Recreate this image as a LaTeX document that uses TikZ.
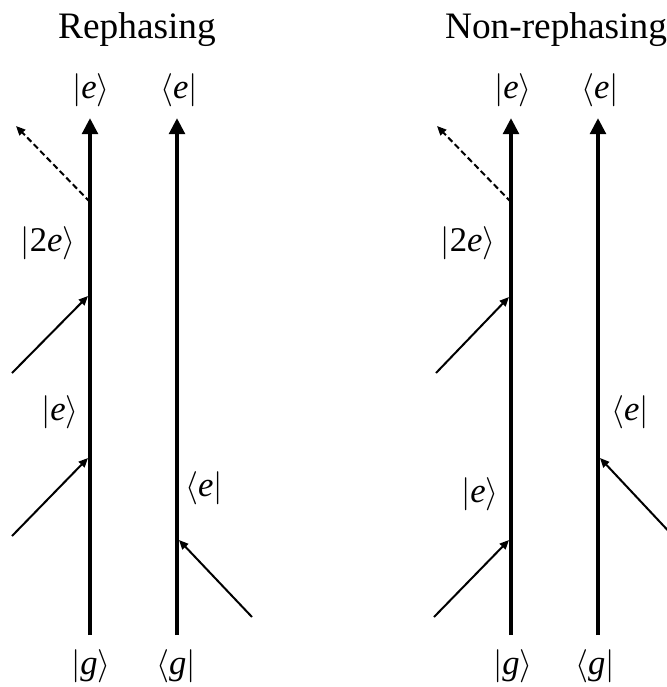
\documentclass[tikz,border=0pt]{standalone}
\usepackage{fontspec}
\setmainfont{Liberation Serif}
\usepackage{xcolor}
\usepackage{tikz}
\usetikzlibrary{arrows.meta}
\definecolor{fyink}{HTML}{000000}
\newcommand{\ketlab}[1]{$|\mbox{#1}\rangle$}
\newcommand{\bralab}[1]{$\langle\mbox{#1}|$}
\tikzset{
  timeline/.style={-{Triangle[length=12pt,width=11.5pt]},line width=3.3pt,draw=fyink},
  pulse/.style={-{Triangle[length=7pt,width=6pt]},line width=1.5pt,draw=fyink},
  signal/.style={pulse,dash pattern=on 4.5pt off 2.5pt},
  statelab/.style={inner sep=0pt,font=\fontsize{26}{28}\selectfont,text=fyink},
  heading/.style={inner sep=0pt,anchor=base,font=\fontsize{28}{32}\selectfont,text=fyink},
}

\begin{document}
\begin{tikzpicture}[x=0.75pt,y=-0.75pt]
  \clip (0,0) rectangle (667,687);
  % rephasing
  \node[heading] (t1) at (137,38) {Rephasing};
  \coordinate (k1a) at (90,635);  \coordinate (k1b) at (90,118);
  \coordinate (b1a) at (177,635); \coordinate (b1b) at (177,118);
  \draw[timeline] (k1a) -- (k1b);
  \draw[timeline] (b1a) -- (b1b);
  \node[statelab] (k1top) at (91,90)  {\ketlab{\textit{e}}};
  \node[statelab] (b1top) at (179,90) {\bralab{\textit{e}}};
  \node[statelab] (k1bot) at (91,666) {\ketlab{\textit{g}}};
  \node[statelab] (b1bot) at (176,666) {\bralab{\textit{g}}};
  \node[statelab] (k1two) at (48,243) {\ketlab{2\textit{e}}};
  \node[statelab] (k1one) at (60,412) {\ketlab{\textit{e}}};
  \node[statelab] (b1one) at (204,488) {\bralab{\textit{e}}};
  \coordinate (s1) at (90,202);  \coordinate (s1e) at (16,126);
  \coordinate (p1a) at (12,536); \coordinate (p1b) at (88,458);
  \coordinate (p2a) at (12,373); \coordinate (p2b) at (88,296);
  \coordinate (p3a) at (252,617); \coordinate (p3b) at (179,540);
  \draw[pulse] (p1a) -- (p1b);
  \draw[pulse] (p2a) -- (p2b);
  \draw[pulse] (p3a) -- (p3b);
  \draw[signal] (s1) -- (s1e);
  % non-rephasing
  \node[heading] (t2) at (556,38) {Non-rephasing};
  \coordinate (k2a) at (511,635); \coordinate (k2b) at (511,118);
  \coordinate (b2a) at (598,635); \coordinate (b2b) at (598,118);
  \draw[timeline] (k2a) -- (k2b);
  \draw[timeline] (b2a) -- (b2b);
  \node[statelab] (k2top) at (513,90)  {\ketlab{\textit{e}}};
  \node[statelab] (b2top) at (600,90)  {\bralab{\textit{e}}};
  \node[statelab] (k2bot) at (513,666) {\ketlab{\textit{g}}};
  \node[statelab] (b2bot) at (595,666) {\bralab{\textit{g}}};
  \node[statelab] (k2two) at (468,243) {\ketlab{2\textit{e}}};
  \node[statelab] (k2one) at (480,494) {\ketlab{\textit{e}}};
  \node[statelab] (b2one) at (630,412) {\bralab{\textit{e}}};
  \coordinate (s2) at (511,202);  \coordinate (s2e) at (437,126);
  \coordinate (q1a) at (434,617); \coordinate (q1b) at (509,540);
  \coordinate (q2a) at (436,373); \coordinate (q2b) at (509,297);
  \coordinate (q3a) at (675,538); \coordinate (q3b) at (600,458);
  \draw[pulse] (q1a) -- (q1b);
  \draw[pulse] (q2a) -- (q2b);
  \draw[pulse] (q3a) -- (q3b);
  \draw[signal] (s2) -- (s2e);
\end{tikzpicture}
\end{document}
